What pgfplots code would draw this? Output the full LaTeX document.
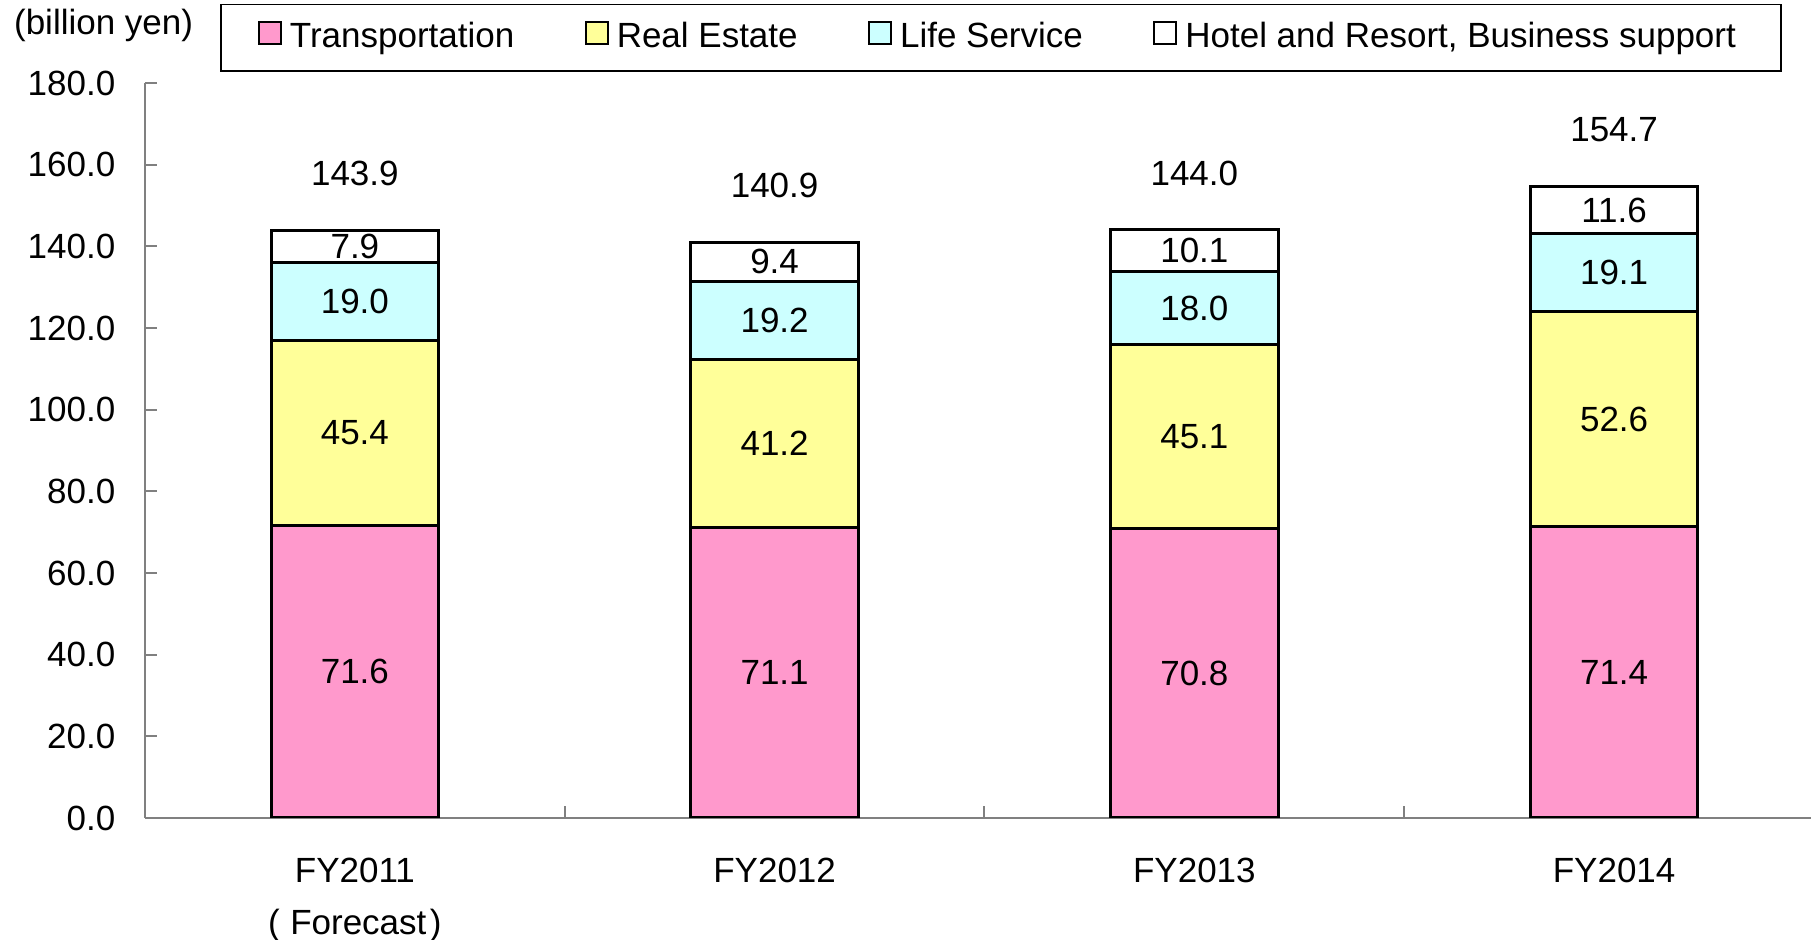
\documentclass[border=0pt]{standalone}
\usepackage{fontspec}
\setmainfont{Liberation Sans}
\usepackage{pgfplots}
\usepackage{pgfplotstable}
\pgfplotsset{compat=1.18}
\definecolor{cTrans}{HTML}{FF99CC}
\definecolor{cReal}{HTML}{FFFF99}
\definecolor{cLife}{HTML}{CCFFFF}
\definecolor{cAxis}{HTML}{808080}

\pgfplotstableread{
x trans real life hotel total
0 71.6 45.4 19.0 7.9  143.9
1 71.1 41.2 19.2 9.4  140.9
2 70.8 45.1 18.0 10.1 144.0
3 71.4 52.6 19.1 11.6 154.7
}\datatable

\pgfplotsset{
  /pgf/number format/.cd, fixed, fixed zerofill, precision=1, assume math mode=true,
  /pgfplots/.cd,
  mid labels/.style={nodes near coords, point meta=explicit,
    every node near coord/.style={anchor=center, text=black}},
  common axis/.style={
    scale only axis, width=416.6pt, height=183.75pt,
    xmin=-0.5, xmax=3.47, ymin=0, ymax=180,
  },
}

\begin{document}
\fontsize{8.75}{13}\selectfont
\begin{tikzpicture}
\begin{axis}[
  name=ax, common axis,
  ybar stacked, bar width=41.9pt,
  axis x line*=bottom, axis y line*=left,
  axis line style={-, draw=cAxis, line width=0.5pt},
  tick align=inside,
  xtick={0,1,2,3},
  xticklabels={{FY2011\\(\hspace{0.3em}Forecast\hspace{0.1em})},FY2012,FY2013,FY2014},
  x tick label style={align=center, yshift=-7pt},
  xtick style={draw=none},
  extra x ticks={0.5,1.5,2.5}, extra x tick labels={},
  extra x tick style={xtick style={draw=cAxis, line width=0.5pt}, major tick length=3pt},
  ytick={0,20,...,180},
  ytick style={draw=cAxis, line width=0.5pt}, major tick length=3pt,
  yticklabel style={xshift=-4.3pt},
  legend image code/.code={\draw[#1, draw=black, line width=0.5pt] (0pt,-1.6pt) rectangle (5.5pt,3.9pt);},
  legend style={at={(axis description cs:0.045,1.108)}, anchor=north west,
    draw=black, line width=0.4pt, legend columns=4, inner xsep=9.3pt, inner ysep=2.5pt,
    /tikz/every even column/.append style={column sep=15.6pt},
    font=\fontsize{8.75}{13}\selectfont},
  legend cell align=left,
]
\addplot[fill=cTrans, draw=black, line width=0.75pt, mid labels] table[x=x, y=trans, meta=trans]{\datatable};
\addplot[fill=cReal, draw=black, line width=0.75pt, mid labels] table[x=x, y=real, meta=real]{\datatable};
\addplot[fill=cLife, draw=black, line width=0.75pt, mid labels] table[x=x, y=life, meta=life]{\datatable};
\addplot[fill=white, draw=black, line width=0.75pt, mid labels] table[x=x, y=hotel, meta=hotel]{\datatable};
\legend{Transportation, Real Estate, Life Service, {Hotel and Resort, Business support}}
\end{axis}
\begin{axis}[common axis, hide axis]
\addplot[draw=none, mark=none, nodes near coords, point meta=explicit,
  every node near coord/.style={anchor=center, yshift=14.25pt, text=black}]
  table[x=x, y=total, meta=total]{\datatable};
\end{axis}
\node at ([shift={(-10.35pt,198.25pt)}]ax.south west) {(billion yen)};
\pgfresetboundingbox
\path[use as bounding box] ([shift={(-36.25pt,-30.5pt)}]ax.south west) rectangle ++(453.25pt,235pt);
\end{tikzpicture}
\end{document}
